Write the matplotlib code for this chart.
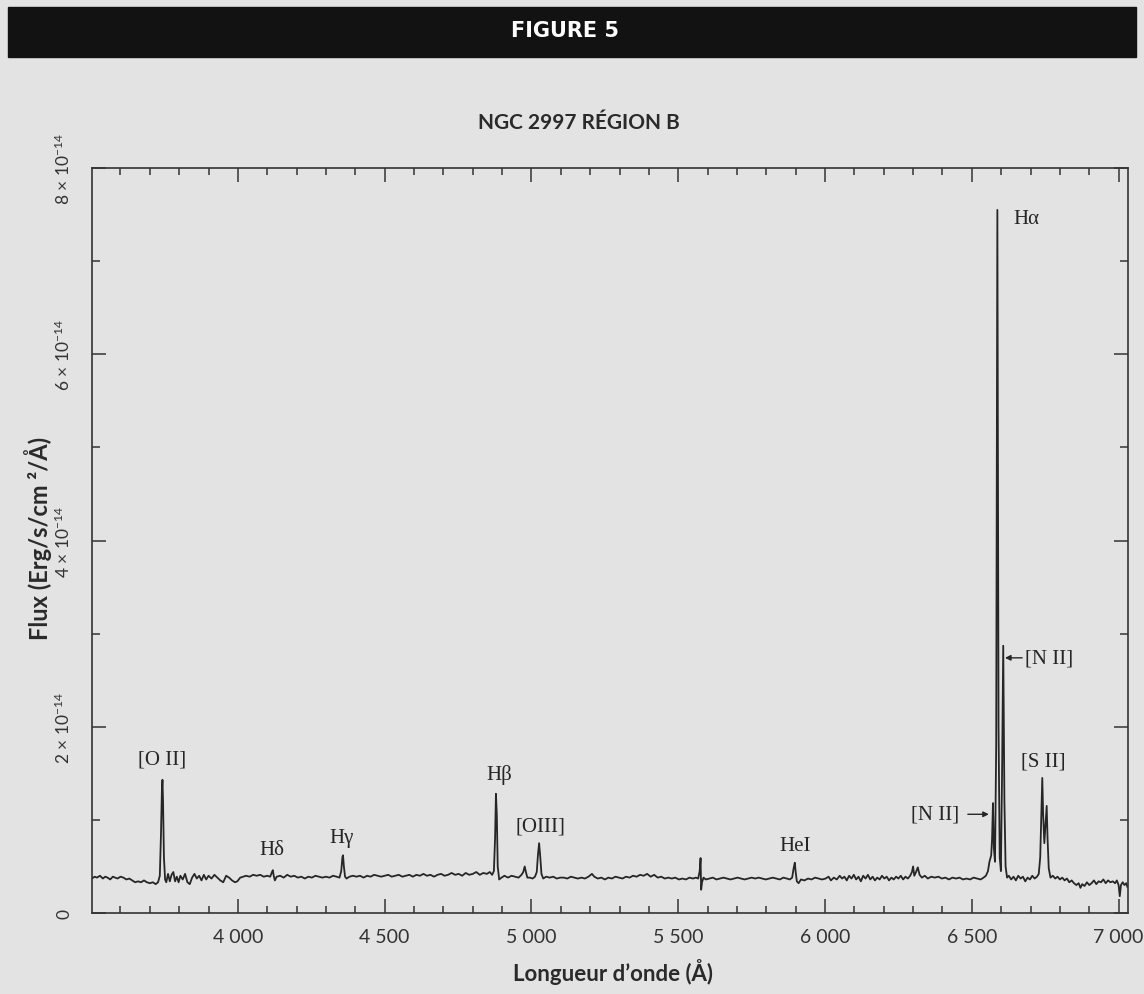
import matplotlib.pyplot as plt
from matplotlib.patches import Rectangle
from matplotlib.ticker import FixedLocator, MultipleLocator

# spectrum, flux in units of 1e-14 erg/s/cm2/A
wavelength = [
    3503, 3512, 3520, 3530, 3540, 3548, 3556, 3565, 3574, 3582, 3590, 3600,
    3610, 3620, 3630, 3640, 3650, 3660, 3670, 3680, 3690, 3700, 3710, 3720,
    3728, 3734, 3738, 3741, 3743, 3745, 3748, 3752, 3756, 3762, 3768, 3774,
    3780, 3786, 3792, 3798, 3804, 3812, 3820, 3828, 3836, 3844, 3852, 3860,
    3868, 3876, 3884, 3892, 3900, 3910, 3920, 3930, 3940, 3950, 3960, 3970,
    3980, 3990, 3998,
    4008, 4018, 4028, 4040, 4052, 4064, 4076, 4088, 4100, 4110, 4116, 4119,
    4122, 4126, 4132, 4144, 4156, 4168, 4180, 4192, 4204, 4216, 4228, 4240,
    4252, 4264, 4276, 4288, 4300, 4312, 4324, 4336, 4346, 4352, 4356, 4358,
    4361, 4365, 4370, 4380, 4392, 4404, 4416, 4428, 4440, 4452, 4464, 4476,
    4488, 4500,
    4512, 4524, 4536, 4548, 4560, 4572, 4584, 4596, 4608, 4620, 4632, 4644,
    4656, 4668, 4680, 4692, 4704, 4716, 4728, 4740, 4752, 4764, 4776, 4788,
    4800, 4812, 4824, 4836, 4848, 4858, 4866, 4872, 4876, 4879, 4882, 4885,
    4890, 4898, 4908, 4920, 4932, 4944, 4956, 4966, 4972, 4977, 4981, 4986,
    4994, 5004, 5012, 5018, 5022, 5026, 5030, 5034, 5040, 5050, 5062, 5074,
    5086, 5098,
    5110, 5122, 5134, 5146, 5158, 5170, 5182, 5194, 5206, 5214, 5226, 5238,
    5250, 5262, 5274, 5286, 5298, 5310, 5322, 5334, 5346, 5358, 5370, 5382,
    5394, 5406, 5418, 5430, 5442, 5454, 5466, 5478, 5490, 5502, 5514, 5526,
    5538, 5550, 5560, 5568, 5573, 5576, 5578, 5581, 5586, 5594,
    5606, 5618, 5630, 5642, 5654, 5666, 5678, 5690, 5702, 5714, 5726, 5738,
    5750, 5762, 5774, 5786, 5798, 5810, 5822, 5834, 5846, 5858, 5870, 5880,
    5888, 5893, 5897, 5900, 5904, 5910, 5918, 5930, 5942, 5954, 5966, 5978,
    5990,
    6002, 6012, 6020, 6030, 6040, 6050, 6058, 6066, 6074, 6082, 6090, 6098,
    6106, 6114, 6122, 6130, 6138, 6146, 6154, 6162, 6170, 6178, 6186, 6194,
    6202, 6210, 6218, 6226, 6234, 6242, 6250, 6258, 6266, 6274, 6282, 6290,
    6296, 6300, 6304, 6310, 6316, 6322, 6330, 6340, 6350, 6362, 6374, 6386,
    6398, 6410, 6422, 6434, 6446, 6458, 6470, 6482, 6494, 6506, 6518, 6530,
    6540, 6548, 6555, 6560, 6566, 6569, 6572, 6575, 6579, 6583, 6587, 6591,
    6595, 6599, 6603, 6607, 6611, 6615, 6620,
    6626, 6634, 6642, 6650, 6658, 6666, 6674, 6682, 6690, 6698, 6706, 6714,
    6722, 6728, 6733, 6737, 6740, 6743, 6747, 6751, 6755, 6758, 6762, 6768,
    6776, 6784, 6792, 6800, 6808, 6816, 6824, 6832, 6840, 6848, 6856, 6864,
    6870, 6876, 6884, 6892, 6900, 6908, 6916, 6924, 6932, 6940, 6948, 6956,
    6964, 6972, 6980, 6988, 6994, 7000, 7004, 7008, 7014, 7020, 7026, 7030,
]
flux = [
    0.37, 0.39, 0.38, 0.40, 0.37, 0.39, 0.38, 0.36, 0.39, 0.38, 0.37, 0.39,
    0.38, 0.36, 0.37, 0.35, 0.33, 0.34, 0.33, 0.35, 0.33, 0.32, 0.33, 0.31,
    0.33, 0.40, 0.85, 1.30, 1.43, 1.20, 0.60, 0.36, 0.33, 0.42, 0.34, 0.41,
    0.44, 0.34, 0.39, 0.33, 0.40, 0.36, 0.42, 0.33, 0.31, 0.38, 0.42, 0.37,
    0.40, 0.35, 0.41, 0.36, 0.40, 0.37, 0.41, 0.38, 0.35, 0.33, 0.40, 0.38,
    0.35, 0.33, 0.34,
    0.38, 0.39, 0.40, 0.39, 0.41, 0.40, 0.41, 0.39, 0.40, 0.39, 0.44, 0.46,
    0.40, 0.35, 0.39, 0.40, 0.38, 0.41, 0.39, 0.40, 0.38, 0.39, 0.37, 0.39,
    0.38, 0.40, 0.39, 0.38, 0.39, 0.38, 0.40, 0.39, 0.38, 0.45, 0.60, 0.62,
    0.50, 0.39, 0.37, 0.39, 0.40, 0.39, 0.40, 0.38, 0.40, 0.39, 0.41, 0.40,
    0.39, 0.40,
    0.41, 0.39, 0.40, 0.41, 0.39, 0.40, 0.41, 0.39, 0.41, 0.40, 0.42, 0.40,
    0.41, 0.39, 0.41, 0.42, 0.40, 0.41, 0.43, 0.41, 0.42, 0.40, 0.43, 0.41,
    0.42, 0.44, 0.41, 0.43, 0.42, 0.44, 0.41, 0.45, 0.80, 1.28, 1.05, 0.50,
    0.36, 0.38, 0.40, 0.38, 0.40, 0.39, 0.38, 0.41, 0.44, 0.50, 0.44, 0.38,
    0.38, 0.37, 0.39, 0.44, 0.62, 0.75, 0.60, 0.42, 0.37, 0.39, 0.38, 0.39,
    0.37, 0.38,
    0.38, 0.37, 0.39, 0.38, 0.37, 0.38, 0.37, 0.39, 0.42, 0.39, 0.37, 0.38,
    0.36, 0.38, 0.37, 0.39, 0.38, 0.37, 0.39, 0.38, 0.40, 0.39, 0.41, 0.40,
    0.42, 0.39, 0.41, 0.38, 0.39, 0.37, 0.38, 0.37, 0.38, 0.36, 0.37, 0.36,
    0.38, 0.37, 0.38, 0.37, 0.45, 0.59, 0.25, 0.33, 0.38, 0.36,
    0.37, 0.38, 0.36, 0.37, 0.38, 0.37, 0.36, 0.37, 0.38, 0.37, 0.36, 0.37,
    0.38, 0.37, 0.38, 0.37, 0.36, 0.37, 0.38, 0.37, 0.36, 0.38, 0.37, 0.36,
    0.38, 0.48, 0.54, 0.44, 0.34, 0.32, 0.36, 0.35, 0.37, 0.36, 0.38, 0.37,
    0.36,
    0.37, 0.39, 0.35, 0.38, 0.36, 0.40, 0.37, 0.39, 0.35, 0.40, 0.37, 0.41,
    0.36, 0.39, 0.34, 0.40, 0.37, 0.41, 0.36, 0.39, 0.35, 0.38, 0.36, 0.40,
    0.37, 0.39, 0.35, 0.38, 0.36, 0.39, 0.37, 0.40, 0.36, 0.39, 0.37, 0.40,
    0.44, 0.50, 0.40, 0.44, 0.49, 0.41, 0.38, 0.40, 0.37, 0.39, 0.38, 0.39,
    0.37, 0.38, 0.36, 0.38, 0.37, 0.38, 0.36, 0.37, 0.36, 0.38, 0.37, 0.36,
    0.38, 0.40, 0.45, 0.55, 0.62, 0.80, 1.18, 0.70, 0.55, 1.80, 7.55, 2.00,
    0.60, 0.45, 1.50, 2.87, 1.20, 0.50, 0.38,
    0.40, 0.36, 0.39, 0.35, 0.40, 0.37, 0.39, 0.34, 0.38, 0.36, 0.40, 0.37,
    0.39, 0.42, 0.60, 1.10, 1.45, 1.05, 0.75, 0.95, 1.15, 0.80, 0.48, 0.38,
    0.40, 0.37, 0.39, 0.36, 0.38, 0.35, 0.37, 0.33, 0.35, 0.32, 0.30, 0.32,
    0.27, 0.31, 0.29, 0.33, 0.30, 0.32, 0.35, 0.31, 0.34, 0.33, 0.36, 0.32,
    0.35, 0.33, 0.34, 0.32, 0.35, 0.30, 0.18, 0.30, 0.33, 0.30, 0.32, 0.28,
]

x_ticks = [4000, 4500, 5000, 5500, 6000, 6500, 7000]
x_tick_labels = ["4 000", "4 500", "5 000", "5 500", "6 000", "6 500", "7 000"]
y_ticks = [0, 2, 4, 6, 8]
y_tick_labels = ["0", "2 × 10$^{-14}$", "4 × 10$^{-14}$", "6 × 10$^{-14}$", "8 × 10$^{-14}$"]

line_names = ["[O II]", "Hδ", "Hγ", "Hβ", "[OIII]", "HeI", "[S II]"]
line_label_x = [3741, 4116, 4354, 4889, 5032, 5898, 6743]
line_label_y = [1.65, 0.68, 0.81, 1.49, 0.93, 0.72, 1.63]

bg = "#e3e3e3"
ink = "#262626"
sans = ["Lato", "DejaVu Sans"]
serif = ["Liberation Serif", "DejaVu Serif"]

plt.rcParams["font.family"] = sans
plt.rcParams["mathtext.fontset"] = "custom"
plt.rcParams["mathtext.rm"] = "Lato"
plt.rcParams["mathtext.it"] = "Lato:italic"
plt.rcParams["mathtext.bf"] = "Lato:bold"

W, H = 1144, 995
fig = plt.figure(figsize=(W / 100, H / 100), dpi=100, facecolor=bg)
ax = fig.add_axes([92 / W, 1 - 914 / H, (1128 - 92) / W, (914 - 169) / H])
ax.set_facecolor(bg)

# banner
fig.patches.append(
    Rectangle((8 / W, 1 - 58 / H), (1136 - 8) / W, 50 / H,
              transform=fig.transFigure, color="#121212", zorder=0)
)
fig.text(565 / W, 1 - 31 / H, "FIGURE 5", color="white", fontsize=15,
         fontweight="bold", ha="center", va="center",
         family=["Liberation Sans Narrow", "DejaVu Sans"])

ax.plot(wavelength, flux, color=ink, lw=1.3)

ax.set_xlim(3503, 7032)
ax.set_ylim(0, 8)
ax.xaxis.set_major_locator(FixedLocator(x_ticks))
ax.xaxis.set_minor_locator(MultipleLocator(100))
ax.set_xticklabels(x_tick_labels, fontsize=14, color="#333333")
ax.yaxis.set_major_locator(FixedLocator(y_ticks))
ax.yaxis.set_minor_locator(MultipleLocator(1))
ax.set_yticklabels(y_tick_labels, fontsize=12.5, color="#333333",
                   rotation=90, va="center")

ax.tick_params(which="both", direction="in", top=True, right=True,
               color="#333333", width=1.1)
ax.tick_params(axis="x", which="major", length=10, pad=11)
ax.tick_params(axis="x", which="minor", length=5)
ax.tick_params(axis="y", which="major", length=10, pad=14)
ax.tick_params(axis="y", which="minor", length=6)
for s in ax.spines.values():
    s.set_color("#333333")
    s.set_linewidth(1.2)

for name, lx, ly in zip(line_names, line_label_x, line_label_y):
    ax.text(lx, ly, name, family=serif, fontsize=15, color=ink,
            ha="center", va="center")

ax.text(6640, 7.46, "Hα", family=serif, fontsize=15, color=ink,
        ha="left", va="center")
ax.annotate("[N II]", xy=(6613, 2.74), xytext=(6681, 2.74),
            family=serif, fontsize=15, color=ink, ha="left", va="center",
            arrowprops=dict(arrowstyle="-|>", color=ink, lw=1,
                            mutation_scale=8, shrinkA=0, shrinkB=0))
ax.annotate("[N II]", xy=(6558, 1.06), xytext=(6458, 1.06),
            family=serif, fontsize=15, color=ink, ha="right", va="center",
            arrowprops=dict(arrowstyle="-|>", color=ink, lw=1,
                            mutation_scale=8, shrinkA=4, shrinkB=0))

fig.text(579 / W, 1 - 123 / H, "NGC 2997 RÉGION B", ha="center", va="center",
         fontsize=15, fontweight="bold", color="#2a2a2a")
fig.text(613 / W, 1 - 972 / H, "Longueur d’onde (Å)", ha="center",
         va="center", fontsize=16, fontweight="bold", color="#2a2a2a")
fig.text(38 / W, 1 - 538 / H, "Flux (Erg/s/cm ²/Å)", ha="center",
         va="center", rotation=90, fontsize=17, fontweight="bold",
         color="#2a2a2a")

fig.savefig("out.png", dpi=100, facecolor=bg)
